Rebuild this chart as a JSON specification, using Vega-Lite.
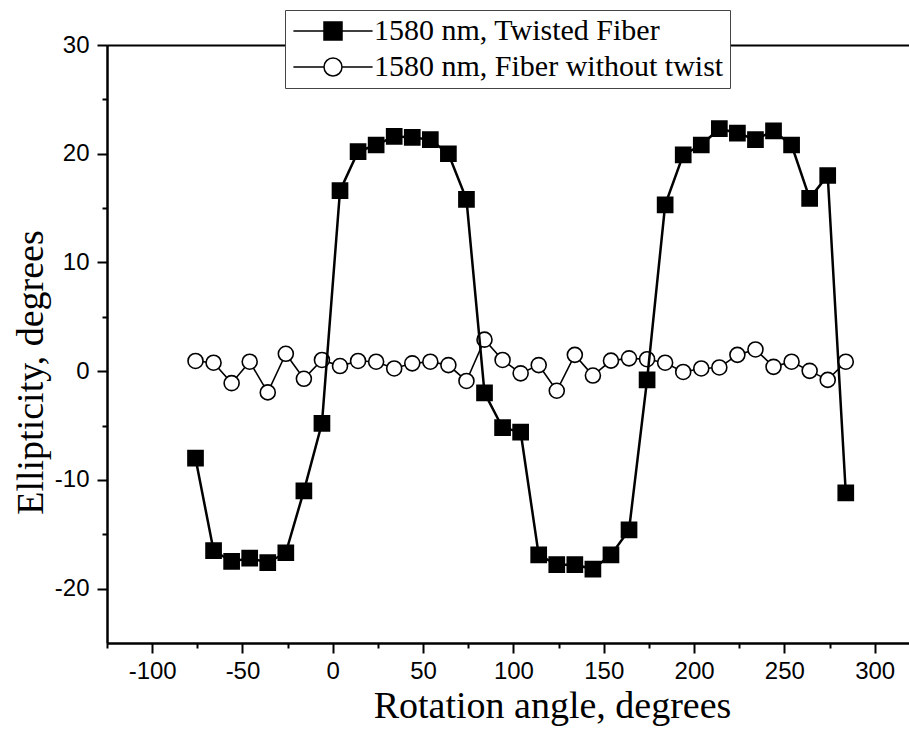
{
  "$schema": "https://vega.github.io/schema/vega-lite/v6.json",
  "width": 802,
  "height": 598,
  "autosize": {"type": "none"},
  "padding": {"left": 107, "top": 45, "right": 0, "bottom": 87},
  "background": "white",
  "config": {
    "view": {"stroke": null},
    "axis": {"domainColor": "black", "domainWidth": 2, "tickColor": "black", "tickWidth": 2, "labelColor": "black", "titleColor": "black", "grid": false, "labelFont": "Liberation Sans", "labelFontSize": 24, "titleFont": "Liberation Serif", "titleFontSize": 38, "titleFontWeight": "normal"},
    "legend": {
      "orient": "none", "legendX": 178, "legendY": -35, "title": null, "padding": 6,
      "symbolSize": 324, "symbolOffset": 27, "labelOffset": 26, "rowPadding": 6,
      "labelFont": "Liberation Serif", "labelFontSize": 30, "labelLimit": 0, "labelColor": "black"
    }
  },
  "data": {
    "values": [
      {"a": -76, "e": -8.0, "s": "1580 nm, Twisted Fiber"},
      {"a": -66, "e": -16.5, "s": "1580 nm, Twisted Fiber"},
      {"a": -56, "e": -17.5, "s": "1580 nm, Twisted Fiber"},
      {"a": -46, "e": -17.2, "s": "1580 nm, Twisted Fiber"},
      {"a": -36, "e": -17.6, "s": "1580 nm, Twisted Fiber"},
      {"a": -26, "e": -16.7, "s": "1580 nm, Twisted Fiber"},
      {"a": -16, "e": -11.0, "s": "1580 nm, Twisted Fiber"},
      {"a": -6, "e": -4.8, "s": "1580 nm, Twisted Fiber"},
      {"a": 4, "e": 16.6, "s": "1580 nm, Twisted Fiber"},
      {"a": 14, "e": 20.2, "s": "1580 nm, Twisted Fiber"},
      {"a": 24, "e": 20.8, "s": "1580 nm, Twisted Fiber"},
      {"a": 34, "e": 21.6, "s": "1580 nm, Twisted Fiber"},
      {"a": 44, "e": 21.5, "s": "1580 nm, Twisted Fiber"},
      {"a": 54, "e": 21.3, "s": "1580 nm, Twisted Fiber"},
      {"a": 64, "e": 20.0, "s": "1580 nm, Twisted Fiber"},
      {"a": 74, "e": 15.8, "s": "1580 nm, Twisted Fiber"},
      {"a": 84, "e": -2.0, "s": "1580 nm, Twisted Fiber"},
      {"a": 94, "e": -5.2, "s": "1580 nm, Twisted Fiber"},
      {"a": 104, "e": -5.6, "s": "1580 nm, Twisted Fiber"},
      {"a": 114, "e": -16.9, "s": "1580 nm, Twisted Fiber"},
      {"a": 124, "e": -17.8, "s": "1580 nm, Twisted Fiber"},
      {"a": 134, "e": -17.8, "s": "1580 nm, Twisted Fiber"},
      {"a": 144, "e": -18.2, "s": "1580 nm, Twisted Fiber"},
      {"a": 154, "e": -16.9, "s": "1580 nm, Twisted Fiber"},
      {"a": 164, "e": -14.6, "s": "1580 nm, Twisted Fiber"},
      {"a": 174, "e": -0.8, "s": "1580 nm, Twisted Fiber"},
      {"a": 184, "e": 15.3, "s": "1580 nm, Twisted Fiber"},
      {"a": 194, "e": 19.9, "s": "1580 nm, Twisted Fiber"},
      {"a": 204, "e": 20.8, "s": "1580 nm, Twisted Fiber"},
      {"a": 214, "e": 22.3, "s": "1580 nm, Twisted Fiber"},
      {"a": 224, "e": 21.9, "s": "1580 nm, Twisted Fiber"},
      {"a": 234, "e": 21.3, "s": "1580 nm, Twisted Fiber"},
      {"a": 244, "e": 22.1, "s": "1580 nm, Twisted Fiber"},
      {"a": 254, "e": 20.8, "s": "1580 nm, Twisted Fiber"},
      {"a": 264, "e": 15.9, "s": "1580 nm, Twisted Fiber"},
      {"a": 274, "e": 18.0, "s": "1580 nm, Twisted Fiber"},
      {"a": 284, "e": -11.2, "s": "1580 nm, Twisted Fiber"},
      {"a": -76, "e": 0.94, "s": "1580 nm, Fiber without twist"},
      {"a": -66, "e": 0.78, "s": "1580 nm, Fiber without twist"},
      {"a": -56, "e": -1.1, "s": "1580 nm, Fiber without twist"},
      {"a": -46, "e": 0.87, "s": "1580 nm, Fiber without twist"},
      {"a": -36, "e": -1.95, "s": "1580 nm, Fiber without twist"},
      {"a": -26, "e": 1.6, "s": "1580 nm, Fiber without twist"},
      {"a": -16, "e": -0.7, "s": "1580 nm, Fiber without twist"},
      {"a": -6, "e": 1.03, "s": "1580 nm, Fiber without twist"},
      {"a": 4, "e": 0.47, "s": "1580 nm, Fiber without twist"},
      {"a": 14, "e": 0.94, "s": "1580 nm, Fiber without twist"},
      {"a": 24, "e": 0.87, "s": "1580 nm, Fiber without twist"},
      {"a": 34, "e": 0.25, "s": "1580 nm, Fiber without twist"},
      {"a": 44, "e": 0.72, "s": "1580 nm, Fiber without twist"},
      {"a": 54, "e": 0.87, "s": "1580 nm, Fiber without twist"},
      {"a": 64, "e": 0.56, "s": "1580 nm, Fiber without twist"},
      {"a": 74, "e": -0.9, "s": "1580 nm, Fiber without twist"},
      {"a": 84, "e": 2.9, "s": "1580 nm, Fiber without twist"},
      {"a": 94, "e": 1.03, "s": "1580 nm, Fiber without twist"},
      {"a": 104, "e": -0.2, "s": "1580 nm, Fiber without twist"},
      {"a": 114, "e": 0.56, "s": "1580 nm, Fiber without twist"},
      {"a": 124, "e": -1.8, "s": "1580 nm, Fiber without twist"},
      {"a": 134, "e": 1.5, "s": "1580 nm, Fiber without twist"},
      {"a": 144, "e": -0.4, "s": "1580 nm, Fiber without twist"},
      {"a": 154, "e": 0.97, "s": "1580 nm, Fiber without twist"},
      {"a": 164, "e": 1.18, "s": "1580 nm, Fiber without twist"},
      {"a": 174, "e": 1.1, "s": "1580 nm, Fiber without twist"},
      {"a": 184, "e": 0.78, "s": "1580 nm, Fiber without twist"},
      {"a": 194, "e": -0.07, "s": "1580 nm, Fiber without twist"},
      {"a": 204, "e": 0.25, "s": "1580 nm, Fiber without twist"},
      {"a": 214, "e": 0.34, "s": "1580 nm, Fiber without twist"},
      {"a": 224, "e": 1.5, "s": "1580 nm, Fiber without twist"},
      {"a": 234, "e": 2.0, "s": "1580 nm, Fiber without twist"},
      {"a": 244, "e": 0.4, "s": "1580 nm, Fiber without twist"},
      {"a": 254, "e": 0.87, "s": "1580 nm, Fiber without twist"},
      {"a": 264, "e": 0.03, "s": "1580 nm, Fiber without twist"},
      {"a": 274, "e": -0.8, "s": "1580 nm, Fiber without twist"},
      {"a": 284, "e": 0.87, "s": "1580 nm, Fiber without twist"}
    ]
  },
  "layer": [
    {
      "transform": [{"filter": "datum.s === '1580 nm, Fiber without twist'"}],
      "mark": {"type": "line", "color": "black", "strokeWidth": 1.6},
      "encoding": {
        "x": {"field": "a", "type": "quantitative", "scale": {"domain": [-125, 319], "nice": false, "zero": false},
              "axis": {"orient": "bottom", "values": [-125, -75, -25, 25, 75, 125, 175, 225, 275], "labels": false, "tickSize": 5, "title": null, "domain": true}},
        "y": {"field": "e", "type": "quantitative", "scale": {"domain": [-25, 30], "nice": false, "zero": false},
              "axis": {"orient": "left", "values": [-15, -5, 5, 15, 25], "labels": false, "tickSize": 5, "title": null, "domain": true}}
      }
    },
    {
      "transform": [{"filter": "datum.s === '1580 nm, Fiber without twist'"}],
      "mark": {"type": "point", "shape": "circle", "filled": true, "fill": "white", "strokeWidth": 1.6, "size": 225, "opacity": 1},
      "encoding": {
        "x": {"field": "a", "type": "quantitative", "axis": null},
        "y": {"field": "e", "type": "quantitative", "axis": null},
        "stroke": {"field": "s", "type": "nominal",
          "scale": {"domain": ["1580 nm, Twisted Fiber", "1580 nm, Fiber without twist"], "range": ["transparent", "black"]},
          "legend": {
            "fillColor": "white", "strokeColor": "#444",
            "symbolType": "M-4.4,0H-1M1,0H4.4M1,0A1,1 0 1,1 -1,0A1,1 0 1,1 1,0Z"
          }}
      }
    },
    {
      "transform": [{"filter": "datum.s === '1580 nm, Twisted Fiber'"}],
      "mark": {"type": "line", "color": "black", "strokeWidth": 2.5},
      "encoding": {
        "x": {"field": "a", "type": "quantitative", "axis": {"orient": "top", "labels": false, "ticks": false, "title": null, "domain": true}},
        "y": {"field": "e", "type": "quantitative", "axis": null}
      }
    },
    {
      "transform": [{"filter": "datum.s === '1580 nm, Twisted Fiber'"}],
      "mark": {"type": "point", "shape": "square", "filled": true, "stroke": "black", "strokeWidth": 2.2, "size": 210, "opacity": 1},
      "encoding": {
        "x": {"field": "a", "type": "quantitative",
              "axis": {"orient": "bottom", "values": [-100, -50, 0, 50, 100, 150, 200, 250, 300], "labelExpr": "toString(datum.value)", "tickSize": 10, "labelPadding": 6, "title": "Rotation angle, degrees", "titlePadding": 4, "titleX": 445, "domain": true, "labelFlush": false}},
        "y": {"field": "e", "type": "quantitative",
              "axis": {"orient": "left", "values": [-20, -10, 0, 10, 20, 30], "labelExpr": "toString(datum.value)", "tickSize": 10, "labelPadding": 8, "title": "Ellipticity, degrees", "titlePadding": 4, "titleY": 327, "domain": true, "labelFlush": false}},
        "fill": {"field": "s", "type": "nominal",
          "scale": {"domain": ["1580 nm, Twisted Fiber"], "range": ["black"]},
          "legend": {
            "labelExpr": "'\u00a0'",
            "symbolType": "M-4.4,0H4.4M-1,-1H1V1H-1Z"
          }}
      }
    }
  ],
  "resolve": {"axis": {"x": "independent", "y": "independent"}}
}
